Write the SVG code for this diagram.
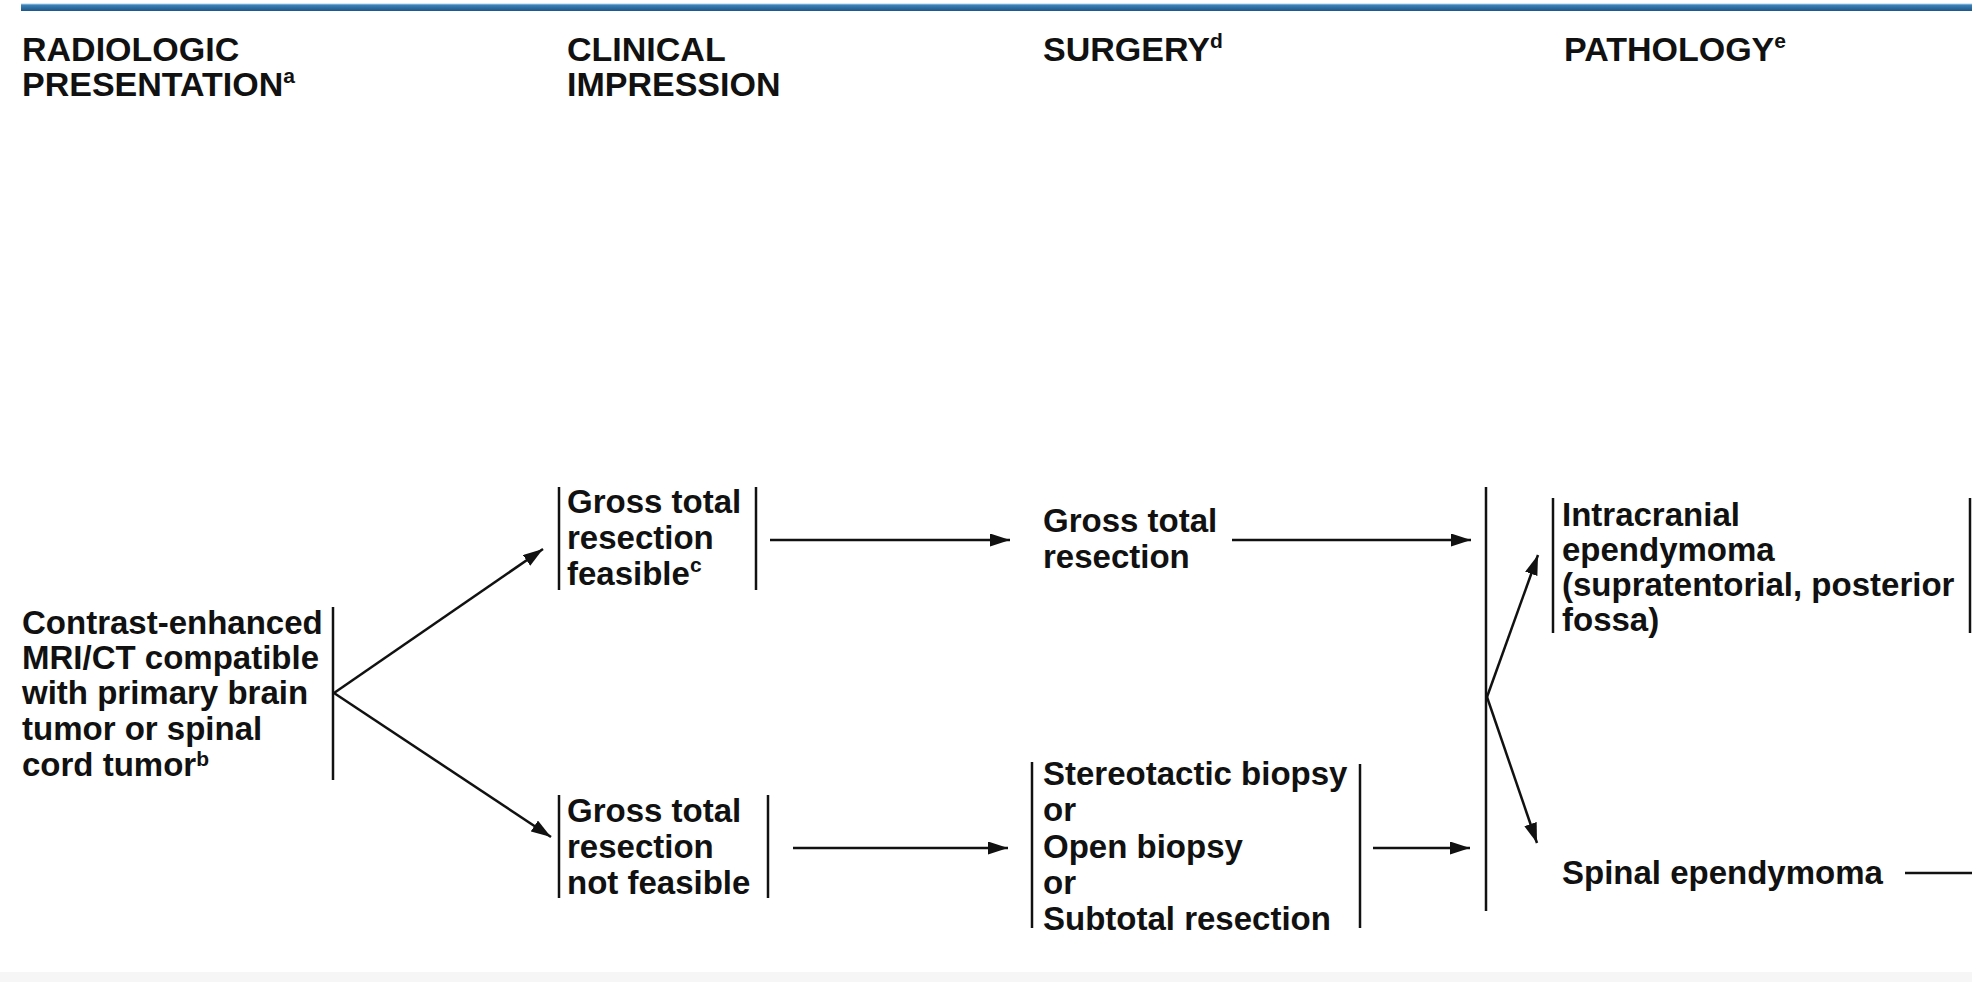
<svg xmlns="http://www.w3.org/2000/svg" width="1972" height="982" viewBox="0 0 1972 982">
<defs>
  <linearGradient id="topbar" x1="0" y1="0" x2="0" y2="1">
    <stop offset="0" stop-color="#a9d6ef"/>
    <stop offset="0.25" stop-color="#3b80b6"/>
    <stop offset="0.6" stop-color="#2c6c9f"/>
    <stop offset="1" stop-color="#1e5687"/>
  </linearGradient>
  <marker id="arr" markerUnits="userSpaceOnUse" markerWidth="22" markerHeight="14" refX="20" refY="6.5" orient="auto">
    <path d="M0,0 L20,6.5 L0,13 z" fill="#111111"/>
  </marker>
  <style>
    text { font-family: "Liberation Sans", Arial, sans-serif; font-weight: bold; fill: #111111; }
    .hd { font-size: 34px; }
    .bd { font-size: 33px; }
    .sup { font-size: 21px; }
    .bar { stroke: #111111; stroke-width: 2.5; fill: none; }
    .ln { stroke: #111111; stroke-width: 2.5; fill: none; }
    .arr { stroke: #111111; stroke-width: 2.5; fill: none; marker-end: url(#arr); }
  </style>
</defs>
<rect x="0" y="0" width="1972" height="982" fill="#ffffff"/>
<rect x="21" y="3.5" width="1951" height="7.5" fill="url(#topbar)"/>
<rect x="0" y="972" width="1972" height="10" fill="#f6f6f6"/>

<g id="headers">
  <text class="hd" x="22" y="61">RADIOLOGIC</text>
  <text class="hd" x="22" y="96">PRESENTATION<tspan class="sup" dy="-13">a</tspan></text>
  <text class="hd" x="567" y="61">CLINICAL</text>
  <text class="hd" x="567" y="96">IMPRESSION</text>
  <text class="hd" x="1043" y="61">SURGERY<tspan class="sup" dy="-13">d</tspan></text>
  <text class="hd" x="1564" y="61">PATHOLOGY<tspan class="sup" dy="-13">e</tspan></text>
</g>

<g id="node-radiologic">
  <text class="bd" x="22" y="634">Contrast-enhanced</text>
  <text class="bd" x="22" y="669">MRI/CT compatible</text>
  <text class="bd" x="22" y="704">with primary brain</text>
  <text class="bd" x="22" y="740">tumor or spinal</text>
  <text class="bd" x="22" y="776">cord tumor<tspan class="sup" dy="-10">b</tspan></text>
  <line class="bar" x1="333" y1="607" x2="333" y2="780"/>
</g>

<g id="node-gtr-feasible">
  <line class="bar" x1="559" y1="487" x2="559" y2="590"/>
  <text class="bd" x="567" y="513">Gross total</text>
  <text class="bd" x="567" y="549">resection</text>
  <text class="bd" x="567" y="585">feasible<tspan class="sup" dy="-13">c</tspan></text>
  <line class="bar" x1="756" y1="487" x2="756" y2="590"/>
</g>

<g id="node-gtr-not-feasible">
  <line class="bar" x1="559" y1="795" x2="559" y2="898"/>
  <text class="bd" x="567" y="822">Gross total</text>
  <text class="bd" x="567" y="858">resection</text>
  <text class="bd" x="567" y="894">not feasible</text>
  <line class="bar" x1="768" y1="795" x2="768" y2="898"/>
</g>

<g id="node-surgery-gtr">
  <text class="bd" x="1043" y="532">Gross total</text>
  <text class="bd" x="1043" y="568">resection</text>
</g>

<g id="node-surgery-biopsy">
  <line class="bar" x1="1032" y1="762" x2="1032" y2="928"/>
  <text class="bd" x="1043" y="785">Stereotactic biopsy</text>
  <text class="bd" x="1043" y="821">or</text>
  <text class="bd" x="1043" y="858">Open biopsy</text>
  <text class="bd" x="1043" y="894">or</text>
  <text class="bd" x="1043" y="930">Subtotal resection</text>
  <line class="bar" x1="1360" y1="764" x2="1360" y2="928"/>
</g>

<g id="node-pathology-collector">
  <line class="bar" x1="1486" y1="487" x2="1486" y2="911"/>
</g>

<g id="node-intracranial">
  <line class="bar" x1="1553" y1="498" x2="1553" y2="633"/>
  <text class="bd" x="1562" y="526">Intracranial</text>
  <text class="bd" x="1562" y="561">ependymoma</text>
  <text class="bd" x="1562" y="596">(supratentorial, posterior</text>
  <text class="bd" x="1562" y="631">fossa)</text>
  <line class="bar" x1="1970" y1="498" x2="1970" y2="633"/>
</g>

<g id="node-spinal">
  <text class="bd" x="1562" y="884">Spinal ependymoma</text>
</g>

<g id="connectors">
  <line class="arr" x1="334" y1="693" x2="543" y2="549"/>
  <line class="arr" x1="334" y1="693" x2="551" y2="837"/>
  <line class="arr" x1="770" y1="540" x2="1010" y2="540"/>
  <line class="arr" x1="793" y1="848" x2="1008" y2="848"/>
  <line class="arr" x1="1232" y1="540" x2="1471" y2="540"/>
  <line class="arr" x1="1373" y1="848" x2="1470" y2="848"/>
  <line class="arr" x1="1487" y1="697" x2="1538" y2="555"/>
  <line class="arr" x1="1487" y1="697" x2="1537" y2="843"/>
  <line class="ln" x1="1905" y1="873" x2="1972" y2="873"/>
</g>
</svg>
